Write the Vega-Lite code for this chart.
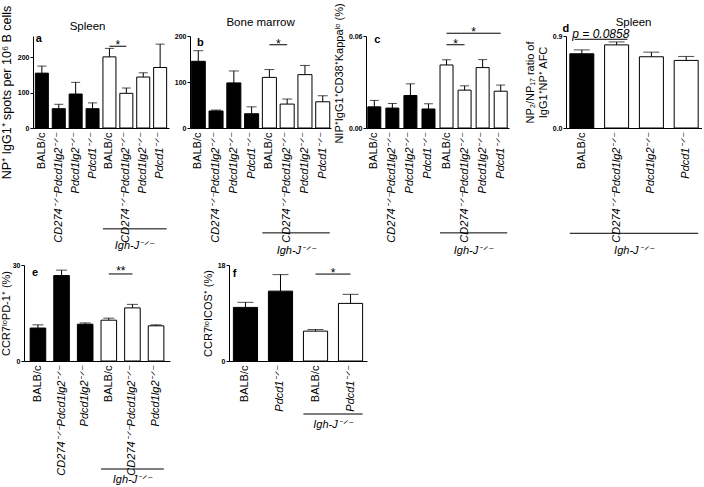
{
  "$schema": "https://vega.github.io/schema/vega-lite/v6.json",
  "padding": {"left": 0, "top": 2, "right": 0, "bottom": 0},
  "config": {
    "font": "Liberation Sans",
    "view": {"stroke": null},
    "axis": {"grid": false, "domainColor": "#000", "tickColor": "#000", "labelColor": "#000", "titleColor": "#000", "titleFontWeight": "normal"},
    "axisX": {"ticks": false, "labelAngle": -90, "labelFontSize": 11, "labelPadding": 4, "labelOverlap": false},
    "axisY": {"labelFontSize": 7, "labelFontWeight": "bold", "tickSize": 3, "labelPadding": 1, "titleFontSize": 11, "titlePadding": 4},
    "text": {"color": "#000"}
  },
  "spacing": 5,
  "vconcat": [
    {
      "spacing": -25,
      "hconcat": [
        {"width": 1, "height": 1, "data": {"values": []}, "mark": "point", "encoding": {}},
        {
          "spacing": 15,
          "hconcat": [
            {
              "spacing": 2,
              "hconcat": [
                {
                  "spacing": 5,
                  "hconcat": [
                    {
                      "width": 136, "height": 92,
                      "data": {"values": [
                        {"k": "BALB/c|1", "grp": "wt", "mean": 155, "hi": 175},
                        {"k": "CD274⁻ᐟ⁻Pdcd1lg2⁻ᐟ⁻|2", "grp": "wt", "mean": 54.5, "hi": 67},
                        {"k": "Pdcd1lg2⁻ᐟ⁻|3", "grp": "wt", "mean": 96, "hi": 129},
                        {"k": "Pdcd1⁻ᐟ⁻|4", "grp": "wt", "mean": 54.5, "hi": 71},
                        {"k": "BALB/c|5", "grp": "igh", "mean": 201, "hi": 225},
                        {"k": "CD274⁻ᐟ⁻Pdcd1lg2⁻ᐟ⁻|6", "grp": "igh", "mean": 98, "hi": 113},
                        {"k": "Pdcd1lg2⁻ᐟ⁻|7", "grp": "igh", "mean": 144, "hi": 156},
                        {"k": "Pdcd1⁻ᐟ⁻|8", "grp": "igh", "mean": 171, "hi": 237}
                      ]},
                      "encoding": {
                        "x": {"field": "k", "type": "nominal", "sort": null,
                          "scale": {"domain": ["BALB/c|1", "CD274⁻ᐟ⁻Pdcd1lg2⁻ᐟ⁻|2", "Pdcd1lg2⁻ᐟ⁻|3", "Pdcd1⁻ᐟ⁻|4", "BALB/c|5", "CD274⁻ᐟ⁻Pdcd1lg2⁻ᐟ⁻|6", "Pdcd1lg2⁻ᐟ⁻|7", "Pdcd1⁻ᐟ⁻|8"], "paddingInner": 0.23, "paddingOuter": 0.14},
                          "axis": {"title": null, "labelExpr": "split(datum.value,'|')[0]", "labelFontStyle": {"condition": {"test": "indexof(datum.value,'BALB')==0", "value": "normal"}, "value": "italic"}}}
                      },
                      "layer": [
                        {"mark": {"type": "bar", "stroke": "#000", "strokeWidth": 1},
                         "encoding": {
                           "y": {"field": "mean", "type": "quantitative", "scale": {"domain": [0, 250]}, "axis": {"values": [0, 50, 100, 150, 200, 250], "title": "NP⁺ IgG1⁺ spots per 10⁶ B cells", "titleFontSize": 12.5, "titleY": 56}},
                           "fill": {"field": "grp", "type": "nominal", "scale": {"domain": ["wt", "igh"], "range": ["#000000", "#ffffff"]}, "legend": null}}},
                        {"mark": {"type": "rule", "color": "#000"}, "encoding": {"y": {"field": "mean", "type": "quantitative"}, "y2": {"field": "hi"}}},
                        {"mark": {"type": "tick", "orient": "horizontal", "size": 9, "thickness": 1, "color": "#000"}, "encoding": {"y": {"field": "hi", "type": "quantitative"}}},
                        {"data": {"values": [{"from": "BALB/c|5", "to": "CD274⁻ᐟ⁻Pdcd1lg2⁻ᐟ⁻|6", "y": 231, "t": "*"}]},
                         "layer": [
                           {"mark": {"type": "rule", "color": "#000"}, "encoding": {"x": {"field": "from", "type": "nominal", "title": null}, "x2": {"field": "to"}, "y": {"field": "y", "type": "quantitative"}}},
                           {"mark": {"type": "text", "fontSize": 12, "baseline": "alphabetic", "dx": 8.5, "dy": 3}, "encoding": {"x": {"field": "from", "type": "nominal", "title": null}, "y": {"field": "y", "type": "quantitative"}, "text": {"field": "t"}}}
                         ]},
                        {"data": {"values": [{"from": "BALB/c|5", "to": "Pdcd1⁻ᐟ⁻|8", "y": -285, "ty": -334, "t": "Igh-J⁻ᐟ⁻"}]},
                         "layer": [
                           {"mark": {"type": "rule", "color": "#000"}, "encoding": {"x": {"field": "from", "type": "nominal", "bandPosition": 0, "title": null}, "x2": {"field": "to", "bandPosition": 1}, "y": {"field": "y", "type": "quantitative"}}},
                           {"mark": {"type": "text", "fontSize": 11, "fontStyle": "italic", "dx": 25}, "encoding": {"x": {"field": "from", "type": "nominal", "title": null}, "y": {"field": "ty", "type": "quantitative"}, "text": {"field": "t"}}}
                         ]},
                        {"data": {"values": [{"t": "a"}]}, "mark": {"type": "text", "fontSize": 11, "fontWeight": "bold", "dx": -3, "dy": -1},
                         "encoding": {"x": {"datum": "BALB/c|1", "type": "nominal"}, "y": {"datum": 250, "type": "quantitative"}, "text": {"field": "t"}}},
                        {"data": {"values": [{"t": "Spleen"}]}, "mark": {"type": "text", "fontSize": 11.5, "dx": -5, "dy": -13},
                         "encoding": {"x": {"datum": "Pdcd1⁻ᐟ⁻|4", "type": "nominal"}, "y": {"datum": 250, "type": "quantitative"}, "text": {"field": "t"}}}
                      ]
                    },
                    {
                      "width": 141, "height": 92,
                      "data": {"values": [
                        {"k": "BALB/c|1", "grp": "wt", "mean": 145, "hi": 168},
                        {"k": "CD274⁻ᐟ⁻Pdcd1lg2⁻ᐟ⁻|2", "grp": "wt", "mean": 37, "hi": 39},
                        {"k": "Pdcd1lg2⁻ᐟ⁻|3", "grp": "wt", "mean": 98, "hi": 124},
                        {"k": "Pdcd1⁻ᐟ⁻|4", "grp": "wt", "mean": 31, "hi": 46},
                        {"k": "BALB/c|5", "grp": "igh", "mean": 110, "hi": 127},
                        {"k": "CD274⁻ᐟ⁻Pdcd1lg2⁻ᐟ⁻|6", "grp": "igh", "mean": 52, "hi": 63},
                        {"k": "Pdcd1lg2⁻ᐟ⁻|7", "grp": "igh", "mean": 116, "hi": 136},
                        {"k": "Pdcd1⁻ᐟ⁻|8", "grp": "igh", "mean": 57, "hi": 70}
                      ]},
                      "encoding": {
                        "x": {"field": "k", "type": "nominal", "sort": null,
                          "scale": {"domain": ["BALB/c|1", "CD274⁻ᐟ⁻Pdcd1lg2⁻ᐟ⁻|2", "Pdcd1lg2⁻ᐟ⁻|3", "Pdcd1⁻ᐟ⁻|4", "BALB/c|5", "CD274⁻ᐟ⁻Pdcd1lg2⁻ᐟ⁻|6", "Pdcd1lg2⁻ᐟ⁻|7", "Pdcd1⁻ᐟ⁻|8"], "paddingInner": 0.21, "paddingOuter": 0.07},
                          "axis": {"title": null, "labelExpr": "split(datum.value,'|')[0]", "labelFontStyle": {"condition": {"test": "indexof(datum.value,'BALB')==0", "value": "normal"}, "value": "italic"}}}
                      },
                      "layer": [
                        {"mark": {"type": "bar", "stroke": "#000", "strokeWidth": 1},
                         "encoding": {
                           "y": {"field": "mean", "type": "quantitative", "scale": {"domain": [0, 200]}, "axis": {"values": [0, 50, 100, 150, 200], "title": null}},
                           "fill": {"field": "grp", "type": "nominal", "scale": {"domain": ["wt", "igh"], "range": ["#000000", "#ffffff"]}, "legend": null}}},
                        {"mark": {"type": "rule", "color": "#000"}, "encoding": {"y": {"field": "mean", "type": "quantitative"}, "y2": {"field": "hi"}}},
                        {"mark": {"type": "tick", "orient": "horizontal", "size": 10, "thickness": 1, "color": "#000"}, "encoding": {"y": {"field": "hi", "type": "quantitative"}}},
                        {"data": {"values": [{"from": "BALB/c|5", "to": "CD274⁻ᐟ⁻Pdcd1lg2⁻ᐟ⁻|6", "y": 181, "t": "*"}]},
                         "layer": [
                           {"mark": {"type": "rule", "color": "#000"}, "encoding": {"x": {"field": "from", "type": "nominal", "title": null}, "x2": {"field": "to"}, "y": {"field": "y", "type": "quantitative"}}},
                           {"mark": {"type": "text", "fontSize": 12, "baseline": "alphabetic", "dx": 9, "dy": 3}, "encoding": {"x": {"field": "from", "type": "nominal", "title": null}, "y": {"field": "y", "type": "quantitative"}, "text": {"field": "t"}}}
                         ]},
                        {"data": {"values": [{"from": "BALB/c|5", "to": "Pdcd1⁻ᐟ⁻|8", "y": -228, "ty": -267, "t": "Igh-J⁻ᐟ⁻"}]},
                         "layer": [
                           {"mark": {"type": "rule", "color": "#000"}, "encoding": {"x": {"field": "from", "type": "nominal", "bandPosition": 0, "title": null}, "x2": {"field": "to", "bandPosition": 1}, "y": {"field": "y", "type": "quantitative"}}},
                           {"mark": {"type": "text", "fontSize": 11, "fontStyle": "italic", "dx": 27}, "encoding": {"x": {"field": "from", "type": "nominal", "title": null}, "y": {"field": "ty", "type": "quantitative"}, "text": {"field": "t"}}}
                         ]},
                        {"data": {"values": [{"t": "b"}]}, "mark": {"type": "text", "fontSize": 11, "fontWeight": "bold", "dx": 2, "dy": 7},
                         "encoding": {"x": {"datum": "BALB/c|1", "type": "nominal"}, "y": {"datum": 200, "type": "quantitative"}, "text": {"field": "t"}}},
                        {"data": {"values": [{"t": "Bone marrow"}]}, "mark": {"type": "text", "fontSize": 11.5, "dx": 9, "dy": -13},
                         "encoding": {"x": {"datum": "Pdcd1⁻ᐟ⁻|4", "type": "nominal"}, "y": {"datum": 200, "type": "quantitative"}, "text": {"field": "t"}}}
                      ]
                    }
                  ]
                },
                {
                  "width": 143, "height": 92,
                  "data": {"values": [
                    {"k": "BALB/c|1", "grp": "wt", "mean": 0.0138, "hi": 0.018},
                    {"k": "CD274⁻ᐟ⁻Pdcd1lg2⁻ᐟ⁻|2", "grp": "wt", "mean": 0.013, "hi": 0.016},
                    {"k": "Pdcd1lg2⁻ᐟ⁻|3", "grp": "wt", "mean": 0.0212, "hi": 0.0288},
                    {"k": "Pdcd1⁻ᐟ⁻|4", "grp": "wt", "mean": 0.0124, "hi": 0.0158},
                    {"k": "BALB/c|5", "grp": "igh", "mean": 0.0411, "hi": 0.0445},
                    {"k": "CD274⁻ᐟ⁻Pdcd1lg2⁻ᐟ⁻|6", "grp": "igh", "mean": 0.0247, "hi": 0.0275},
                    {"k": "Pdcd1lg2⁻ᐟ⁻|7", "grp": "igh", "mean": 0.0394, "hi": 0.0446},
                    {"k": "Pdcd1⁻ᐟ⁻|8", "grp": "igh", "mean": 0.024, "hi": 0.028}
                  ]},
                  "encoding": {
                    "x": {"field": "k", "type": "nominal", "sort": null,
                      "scale": {"domain": ["BALB/c|1", "CD274⁻ᐟ⁻Pdcd1lg2⁻ᐟ⁻|2", "Pdcd1lg2⁻ᐟ⁻|3", "Pdcd1⁻ᐟ⁻|4", "BALB/c|5", "CD274⁻ᐟ⁻Pdcd1lg2⁻ᐟ⁻|6", "Pdcd1lg2⁻ᐟ⁻|7", "Pdcd1⁻ᐟ⁻|8"], "paddingInner": 0.28, "paddingOuter": 0.1},
                      "axis": {"title": null, "labelExpr": "split(datum.value,'|')[0]", "labelFontStyle": {"condition": {"test": "indexof(datum.value,'BALB')==0", "value": "normal"}, "value": "italic"}}}
                  },
                  "layer": [
                    {"mark": {"type": "bar", "stroke": "#000", "strokeWidth": 1},
                     "encoding": {
                       "y": {"field": "mean", "type": "quantitative", "scale": {"domain": [0, 0.06]}, "axis": {"values": [0, 0.02, 0.04, 0.06], "format": ".2f", "title": "NIP⁺IgG1⁺CD38⁺Kappaˡᵒ (%)", "titleY": 37}},
                       "fill": {"field": "grp", "type": "nominal", "scale": {"domain": ["wt", "igh"], "range": ["#000000", "#ffffff"]}, "legend": null}}},
                    {"mark": {"type": "rule", "color": "#000"}, "encoding": {"y": {"field": "mean", "type": "quantitative"}, "y2": {"field": "hi"}}},
                    {"mark": {"type": "tick", "orient": "horizontal", "size": 9, "thickness": 1, "color": "#000"}, "encoding": {"y": {"field": "hi", "type": "quantitative"}}},
                    {"data": {"values": [{"from": "BALB/c|5", "to": "CD274⁻ᐟ⁻Pdcd1lg2⁻ᐟ⁻|6", "y": 0.0543, "t": "*"}]},
                     "layer": [
                       {"mark": {"type": "rule", "color": "#000"}, "encoding": {"x": {"field": "from", "type": "nominal", "title": null}, "x2": {"field": "to"}, "y": {"field": "y", "type": "quantitative"}}},
                       {"mark": {"type": "text", "fontSize": 12, "baseline": "alphabetic", "dx": 9, "dy": 3}, "encoding": {"x": {"field": "from", "type": "nominal", "title": null}, "y": {"field": "y", "type": "quantitative"}, "text": {"field": "t"}}}
                     ]},
                    {"data": {"values": [{"from": "BALB/c|5", "to": "Pdcd1⁻ᐟ⁻|8", "y": 0.0618, "t": "*"}]},
                     "layer": [
                       {"mark": {"type": "rule", "color": "#000"}, "encoding": {"x": {"field": "from", "type": "nominal", "title": null}, "x2": {"field": "to"}, "y": {"field": "y", "type": "quantitative"}}},
                       {"mark": {"type": "text", "fontSize": 12, "baseline": "alphabetic", "dx": 27, "dy": 3}, "encoding": {"x": {"field": "from", "type": "nominal", "title": null}, "y": {"field": "y", "type": "quantitative"}, "text": {"field": "t"}}}
                     ]},
                    {"data": {"values": [{"from": "BALB/c|5", "to": "Pdcd1⁻ᐟ⁻|8", "y": -0.0684, "ty": -0.08, "t": "Igh-J⁻ᐟ⁻"}]},
                     "layer": [
                       {"mark": {"type": "rule", "color": "#000"}, "encoding": {"x": {"field": "from", "type": "nominal", "bandPosition": 0, "title": null}, "x2": {"field": "to", "bandPosition": 1}, "y": {"field": "y", "type": "quantitative"}}},
                       {"mark": {"type": "text", "fontSize": 11, "fontStyle": "italic", "dx": 27}, "encoding": {"x": {"field": "from", "type": "nominal", "title": null}, "y": {"field": "ty", "type": "quantitative"}, "text": {"field": "t"}}}
                     ]},
                    {"data": {"values": [{"t": "c"}]}, "mark": {"type": "text", "fontSize": 11, "fontWeight": "bold", "dx": 3, "dy": 4},
                     "encoding": {"x": {"datum": "BALB/c|1", "type": "nominal"}, "y": {"datum": 0.06, "type": "quantitative"}, "text": {"field": "t"}}}
                  ]
                }
              ]
            },
            {
              "width": 136, "height": 92,
              "data": {"values": [
                {"k": "BALB/c|1", "grp": "wt", "mean": 0.726, "hi": 0.764},
                {"k": "CD274⁻ᐟ⁻Pdcd1lg2⁻ᐟ⁻|2", "grp": "igh", "mean": 0.813, "hi": 0.842},
                {"k": "Pdcd1lg2⁻ᐟ⁻|3", "grp": "igh", "mean": 0.697, "hi": 0.742},
                {"k": "Pdcd1⁻ᐟ⁻|4", "grp": "igh", "mean": 0.661, "hi": 0.7}
              ]},
              "encoding": {
                "x": {"field": "k", "type": "nominal", "sort": null,
                  "scale": {"domain": ["BALB/c|1", "CD274⁻ᐟ⁻Pdcd1lg2⁻ᐟ⁻|2", "Pdcd1lg2⁻ᐟ⁻|3", "Pdcd1⁻ᐟ⁻|4"], "paddingInner": 0.31, "paddingOuter": 0.11},
                  "axis": {"title": null, "labelExpr": "split(datum.value,'|')[0]", "labelFontStyle": {"condition": {"test": "indexof(datum.value,'BALB')==0", "value": "normal"}, "value": "italic"}}}
              },
              "layer": [
                {"mark": {"type": "bar", "stroke": "#000", "strokeWidth": 1},
                 "encoding": {
                   "y": {"field": "mean", "type": "quantitative", "scale": {"domain": [0, 0.9]}, "axis": {"values": [0, 0.3, 0.6, 0.9], "format": ".1f", "title": ["NP₂/NP₁₇ ratio of", "IgG1⁺NP⁺ AFC"]}},
                   "fill": {"field": "grp", "type": "nominal", "scale": {"domain": ["wt", "igh"], "range": ["#000000", "#ffffff"]}, "legend": null}}},
                {"mark": {"type": "rule", "color": "#000"}, "encoding": {"y": {"field": "mean", "type": "quantitative"}, "y2": {"field": "hi"}}},
                {"mark": {"type": "tick", "orient": "horizontal", "size": 16, "thickness": 1, "color": "#000"}, "encoding": {"y": {"field": "hi", "type": "quantitative"}}},
                {"data": {"values": [{"from": "BALB/c|1", "to": "CD274⁻ᐟ⁻Pdcd1lg2⁻ᐟ⁻|2", "y": 0.868, "t": "p = 0.0858"}]},
                 "layer": [
                   {"mark": {"type": "rule", "color": "#000"}, "encoding": {"x": {"field": "from", "type": "nominal", "bandPosition": 0.2, "title": null}, "x2": {"field": "to", "bandPosition": 0.95}, "y": {"field": "y", "type": "quantitative"}}},
                   {"mark": {"type": "text", "fontSize": 12, "fontStyle": "italic", "baseline": "alphabetic", "dx": 19, "dy": -1.5}, "encoding": {"x": {"field": "from", "type": "nominal", "title": null}, "y": {"field": "y", "type": "quantitative"}, "text": {"field": "t"}}}
                 ]},
                {"data": {"values": [{"from": "BALB/c|1", "to": "Pdcd1⁻ᐟ⁻|4", "y": -1.03, "ty": -1.2, "t": "Igh-J⁻ᐟ⁻"}]},
                 "layer": [
                   {"mark": {"type": "rule", "color": "#000"}, "encoding": {"x": {"field": "from", "type": "nominal", "bandPosition": 0, "title": null}, "x2": {"field": "to", "bandPosition": 1}, "y": {"field": "y", "type": "quantitative"}}},
                   {"mark": {"type": "text", "fontSize": 11, "fontStyle": "italic", "dx": 52}, "encoding": {"x": {"field": "from", "type": "nominal", "title": null}, "y": {"field": "ty", "type": "quantitative"}, "text": {"field": "t"}}}
                 ]},
                {"data": {"values": [{"t": "d"}]}, "mark": {"type": "text", "fontSize": 11, "fontWeight": "bold", "dx": -16, "dy": -7},
                 "encoding": {"x": {"datum": "BALB/c|1", "type": "nominal"}, "y": {"datum": 0.9, "type": "quantitative"}, "text": {"field": "t"}}},
                {"data": {"values": [{"t": "Spleen"}]}, "mark": {"type": "text", "fontSize": 11.5, "dx": 17, "dy": -13},
                 "encoding": {"x": {"datum": "CD274⁻ᐟ⁻Pdcd1lg2⁻ᐟ⁻|2", "type": "nominal"}, "y": {"datum": 0.9, "type": "quantitative"}, "text": {"field": "t"}}}
              ]
            }
          ]
        }
      ]
    },
    {
      "spacing": 32,
      "hconcat": [
        {
          "width": 146, "height": 96,
          "data": {"values": [
            {"k": "BALB/c|1", "grp": "wt", "mean": 10.3, "hi": 11.3},
            {"k": "CD274⁻ᐟ⁻Pdcd1lg2⁻ᐟ⁻|2", "grp": "wt", "mean": 26.7, "hi": 28.4},
            {"k": "Pdcd1lg2⁻ᐟ⁻|3", "grp": "wt", "mean": 11.5, "hi": 11.9},
            {"k": "BALB/c|4", "grp": "igh", "mean": 12.75, "hi": 13.4},
            {"k": "CD274⁻ᐟ⁻Pdcd1lg2⁻ᐟ⁻|5", "grp": "igh", "mean": 16.6, "hi": 17.7},
            {"k": "Pdcd1lg2⁻ᐟ⁻|6", "grp": "igh", "mean": 11.0, "hi": 11.3}
          ]},
          "encoding": {
            "x": {"field": "k", "type": "nominal", "sort": null,
              "scale": {"domain": ["BALB/c|1", "CD274⁻ᐟ⁻Pdcd1lg2⁻ᐟ⁻|2", "Pdcd1lg2⁻ᐟ⁻|3", "BALB/c|4", "CD274⁻ᐟ⁻Pdcd1lg2⁻ᐟ⁻|5", "Pdcd1lg2⁻ᐟ⁻|6"], "paddingInner": 0.34, "paddingOuter": 0.26},
              "axis": {"title": null, "labelExpr": "split(datum.value,'|')[0]", "labelFontStyle": {"condition": {"test": "indexof(datum.value,'BALB')==0", "value": "normal"}, "value": "italic"}}}
          },
          "layer": [
            {"mark": {"type": "bar", "stroke": "#000", "strokeWidth": 1},
             "encoding": {
               "y": {"field": "mean", "type": "quantitative", "scale": {"domain": [0, 30]}, "axis": {"values": [0, 10, 20, 30], "title": "CCR7ˡᵒPD-1⁺ (%)", "titlePadding": 1}},
               "fill": {"field": "grp", "type": "nominal", "scale": {"domain": ["wt", "igh"], "range": ["#000000", "#ffffff"]}, "legend": null}}},
            {"mark": {"type": "rule", "color": "#000"}, "encoding": {"y": {"field": "mean", "type": "quantitative"}, "y2": {"field": "hi"}}},
            {"mark": {"type": "tick", "orient": "horizontal", "size": 11, "thickness": 1, "color": "#000"}, "encoding": {"y": {"field": "hi", "type": "quantitative"}}},
            {"data": {"values": [{"from": "BALB/c|4", "to": "CD274⁻ᐟ⁻Pdcd1lg2⁻ᐟ⁻|5", "y": 27.2, "t": "**"}]},
             "layer": [
               {"mark": {"type": "rule", "color": "#000"}, "encoding": {"x": {"field": "from", "type": "nominal", "title": null}, "x2": {"field": "to"}, "y": {"field": "y", "type": "quantitative"}}},
               {"mark": {"type": "text", "fontSize": 12, "baseline": "alphabetic", "dx": 12, "dy": 1}, "encoding": {"x": {"field": "from", "type": "nominal", "title": null}, "y": {"field": "y", "type": "quantitative"}, "text": {"field": "t"}}}
             ]},
            {"data": {"values": [{"from": "BALB/c|4", "to": "Pdcd1lg2⁻ᐟ⁻|6", "mid": "CD274⁻ᐟ⁻Pdcd1lg2⁻ᐟ⁻|5", "y": -33.75, "ty": -37.3, "t": "Igh-J⁻ᐟ⁻"}]},
             "layer": [
               {"mark": {"type": "rule", "color": "#000"}, "encoding": {"x": {"field": "from", "type": "nominal", "bandPosition": 0, "title": null}, "x2": {"field": "to", "bandPosition": 1}, "y": {"field": "y", "type": "quantitative"}}},
               {"mark": {"type": "text", "fontSize": 11, "fontStyle": "italic"}, "encoding": {"x": {"field": "mid", "type": "nominal", "title": null}, "y": {"field": "ty", "type": "quantitative"}, "text": {"field": "t"}}}
             ]},
            {"data": {"values": [{"t": "e"}]}, "mark": {"type": "text", "fontSize": 11, "fontWeight": "bold", "dx": -3, "dy": 8},
             "encoding": {"x": {"datum": "BALB/c|1", "type": "nominal"}, "y": {"datum": 30, "type": "quantitative"}, "text": {"field": "t"}}}
          ]
        },
        {
          "width": 138, "height": 96,
          "data": {"values": [
            {"k": "BALB/c|1", "grp": "wt", "mean": 10.05, "hi": 11.0},
            {"k": "Pdcd1⁻ᐟ⁻|2", "grp": "wt", "mean": 13.1, "hi": 16.2},
            {"k": "BALB/c|3", "grp": "igh", "mean": 5.6, "hi": 5.9},
            {"k": "Pdcd1⁻ᐟ⁻|4", "grp": "igh", "mean": 10.8, "hi": 12.5}
          ]},
          "encoding": {
            "x": {"field": "k", "type": "nominal", "sort": null,
              "scale": {"domain": ["BALB/c|1", "Pdcd1⁻ᐟ⁻|2", "BALB/c|3", "Pdcd1⁻ᐟ⁻|4"], "paddingInner": 0.31, "paddingOuter": 0.125},
              "axis": {"title": null, "labelExpr": "split(datum.value,'|')[0]", "labelFontStyle": {"condition": {"test": "indexof(datum.value,'BALB')==0", "value": "normal"}, "value": "italic"}}}
          },
          "layer": [
            {"mark": {"type": "bar", "stroke": "#000", "strokeWidth": 1},
             "encoding": {
               "y": {"field": "mean", "type": "quantitative", "scale": {"domain": [0, 18]}, "axis": {"values": [0, 6, 12, 18], "title": "CCR7ˡᵒICOS⁺ (%)"}},
               "fill": {"field": "grp", "type": "nominal", "scale": {"domain": ["wt", "igh"], "range": ["#000000", "#ffffff"]}, "legend": null}}},
            {"mark": {"type": "rule", "color": "#000"}, "encoding": {"y": {"field": "mean", "type": "quantitative"}, "y2": {"field": "hi"}}},
            {"mark": {"type": "tick", "orient": "horizontal", "size": 16, "thickness": 1, "color": "#000"}, "encoding": {"y": {"field": "hi", "type": "quantitative"}}},
            {"data": {"values": [{"from": "BALB/c|3", "to": "Pdcd1⁻ᐟ⁻|4", "y": 16.3, "t": "*"}]},
             "layer": [
               {"mark": {"type": "rule", "color": "#000"}, "encoding": {"x": {"field": "from", "type": "nominal", "title": null}, "x2": {"field": "to"}, "y": {"field": "y", "type": "quantitative"}}},
               {"mark": {"type": "text", "fontSize": 12, "baseline": "alphabetic", "dx": 17.5, "dy": 3}, "encoding": {"x": {"field": "from", "type": "nominal", "title": null}, "y": {"field": "y", "type": "quantitative"}, "text": {"field": "t"}}}
             ]},
            {"data": {"values": [{"from": "BALB/c|3", "to": "Pdcd1⁻ᐟ⁻|4", "y": -9.94, "ty": -12, "t": "Igh-J⁻ᐟ⁻"}]},
             "layer": [
               {"mark": {"type": "rule", "color": "#000"}, "encoding": {"x": {"field": "from", "type": "nominal", "bandPosition": 0, "title": null}, "x2": {"field": "to", "bandPosition": 1}, "y": {"field": "y", "type": "quantitative"}}},
               {"mark": {"type": "text", "fontSize": 11, "fontStyle": "italic", "dx": 17.5}, "encoding": {"x": {"field": "from", "type": "nominal", "title": null}, "y": {"field": "ty", "type": "quantitative"}, "text": {"field": "t"}}}
             ]},
            {"data": {"values": [{"t": "f"}]}, "mark": {"type": "text", "fontSize": 11, "fontWeight": "bold", "dx": -11, "dy": 9},
             "encoding": {"x": {"datum": "BALB/c|1", "type": "nominal"}, "y": {"datum": 18, "type": "quantitative"}, "text": {"field": "t"}}}
          ]
        }
      ]
    }
  ]
}
